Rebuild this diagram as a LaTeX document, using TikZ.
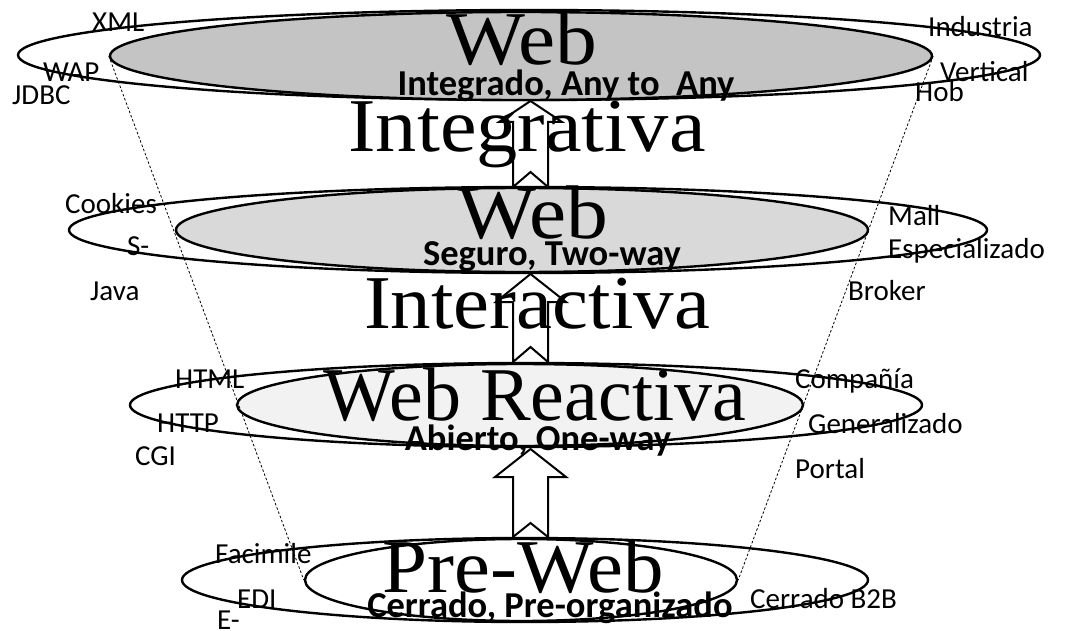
\documentclass[tikz,border=0pt]{standalone}
\usepackage{graphicx}
\usepackage{fontspec}
\setmainfont{Liberation Serif}
\newfontfamily\lblfont{Carlito}
\usetikzlibrary{shapes.geometric}
\definecolor{gA}{HTML}{C4C4C4}
\definecolor{gB}{HTML}{D9D9D9}
\definecolor{gC}{HTML}{F2F2F2}
\tikzset{
  ring/.style={draw=black, line width=2.4pt, ellipse, inner sep=0pt, minimum width=#1},
  bigtxt/.style={inner sep=0pt, anchor=base, font=\fontsize{76}{80}\selectfont},
  subtxt/.style={inner sep=0pt, anchor=base, font=\lblfont\bfseries\fontsize{36.5}{38}\selectfont},
  lbl/.style={inner sep=0pt, anchor=base west, font=\lblfont\fontsize{29}{30}\selectfont},
  guide/.style={draw=black, line width=0.8pt, dash pattern=on 2.5pt off 2pt},
  blockarrow/.style={draw=black, fill=white, line width=2pt, line join=miter}
}
\begin{document}
\begin{tikzpicture}[x=1pt,y=-1pt]
\useasboundingbox[fill=white] (0,0) rectangle (1075,631);
% outer rings
\node[ring=1022pt, minimum height=90pt] (o1) at (529,55) {};
\node[ring=918pt, minimum height=86pt] (o2) at (528,230) {};
\node[ring=792pt, minimum height=84pt] (o3) at (526,405) {};
\node[ring=686pt, minimum height=84pt] (o4) at (525,580) {};
% inner rings
\node[ring=822pt, minimum height=88pt, fill=gA] (i1) at (521,56) {};
\node[ring=692pt, minimum height=84pt, fill=gB] (i2) at (522,230) {};
\node[ring=566pt, minimum height=82pt, fill=gC] (i3) at (520,405) {};
\node[ring=432pt, minimum height=82pt, fill=white] (i4) at (521,580) {};
% guide lines
\draw[guide] (i1.west) -- (i4.west);
\draw[guide] (i1.east) -- (i4.east);
% block arrows
\draw[blockarrow] (530.5,101) -- (562,122) -- (548,122) -- (548,187) -- (530.5,172) -- (513,187) -- (513,122) -- (499,122) -- cycle;
\draw[blockarrow] (530.5,274) -- (566,302) -- (548,302) -- (548,362) -- (530.5,347) -- (513,362) -- (513,302) -- (496,302) -- cycle;
\draw[blockarrow] (530.5,449) -- (566,477) -- (548,477) -- (548,537) -- (530.5,523) -- (513,537) -- (513,477) -- (495,477) -- cycle;
% big texts
\node[bigtxt] (w1) at (522,65) {\scalebox{1.1}[1]{Web}};
\node[bigtxt] (t1) at (527,152) {\scalebox{1.085}[1]{Integrativa}};
\node[bigtxt] (w2) at (533,238) {\scalebox{1.1}[1]{Web}};
\node[bigtxt] (t2) at (537,328) {\scalebox{1.065}[1]{Interactiva}};
\node[bigtxt] (w3) at (535,420) {Web Reactiva};
\node[bigtxt] (w4) at (523,592) {\scalebox{1.065}[1]{Pre-Web}};
% sub texts
\node[subtxt] (s1) at (566,96) {Integrado, Any to\ \ Any};
\node[subtxt] (s2) at (552,265) {Seguro, Two-way};
\node[subtxt] (s3) at (538,450) {Abierto, One-way};
\node[subtxt] (s4) at (550,617) {Cerrado, Pre-organizado};
% side labels
\node[lbl] (l1) at (92,32) {XML};
\node[lbl] (l2) at (43,82) {WAP};
\node[lbl] (l3) at (12,105) {JDBC};
\node[lbl] (r1) at (928,37) {Industria};
\node[lbl] (r2) at (940,82) {Vertical};
\node[lbl] (r3) at (915,102) {Hob};
\node[lbl] (l4) at (65,213) {Cookies};
\node[lbl] (l5) at (127,255) {S-};
\node[lbl] (l6) at (90,300) {Java};
\node[lbl] (r4) at (888,225) {Mall};
\node[lbl] (r5) at (888,258) {Especializado};
\node[lbl] (r6) at (848,300) {Broker};
\node[lbl] (l7) at (175,388) {HTML};
\node[lbl] (l8) at (157,432) {HTTP};
\node[lbl] (l9) at (135,465) {CGI};
\node[lbl] (r7) at (795,388) {Compañía};
\node[lbl] (r8) at (808,433) {Generalizado};
\node[lbl] (r9) at (795,478) {Portal};
\node[lbl] (l10) at (215,563) {Facimile};
\node[lbl] (l11) at (237,608) {EDI};
\node[lbl] (l12) at (217,629) {E-};
\node[lbl] (r10) at (750,608) {Cerrado B2B};
\end{tikzpicture}
\end{document}
